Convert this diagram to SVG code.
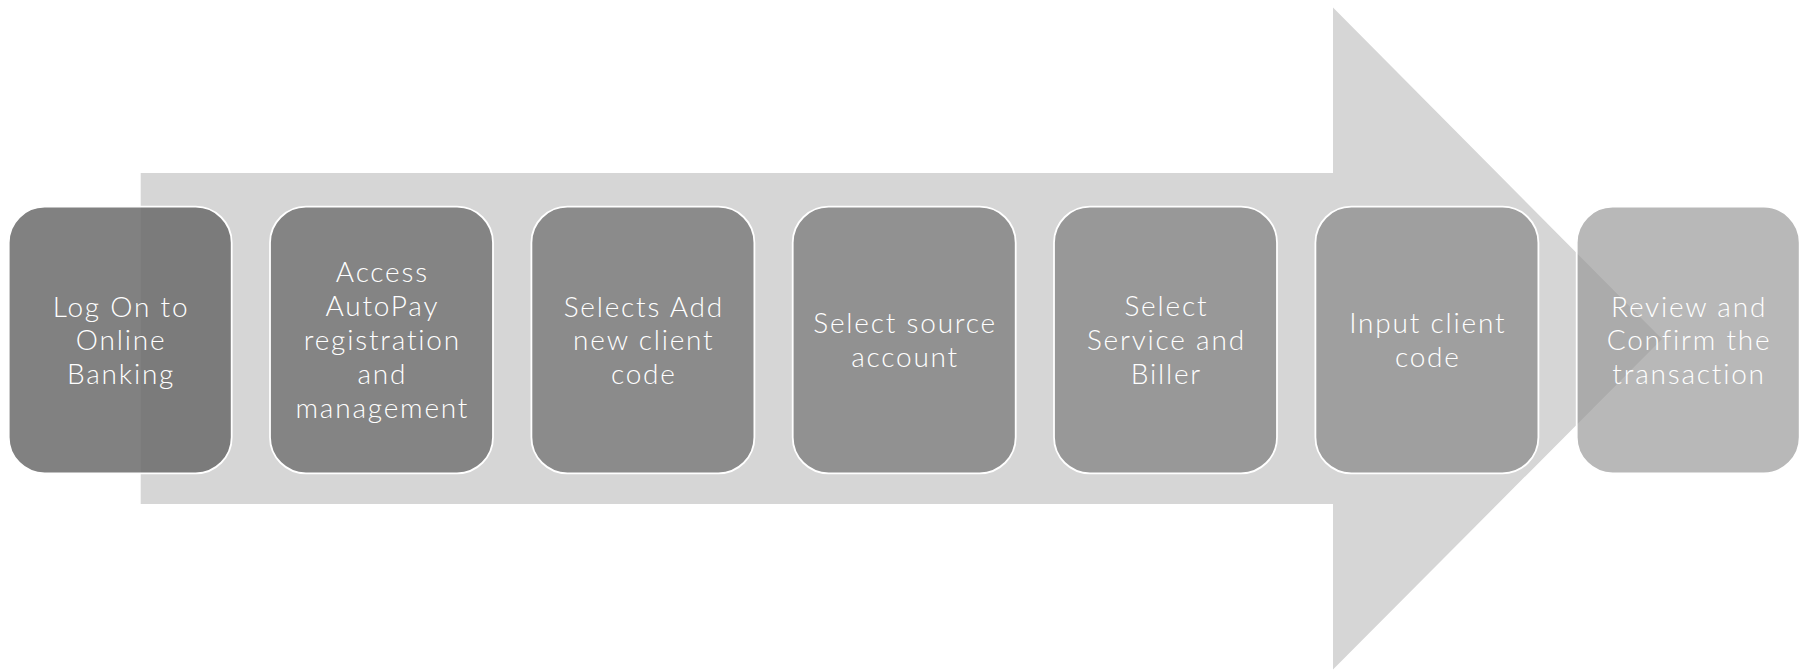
<svg xmlns="http://www.w3.org/2000/svg" width="1808" height="670" viewBox="0 0 1808 670">
<style>
.box{stroke:#ffffff;stroke-width:1.8}
.t{font-family:Lato,"Open Sans","Liberation Sans",sans-serif;font-weight:300;font-size:28px;letter-spacing:1.8px;fill:#ffffff;text-anchor:middle}
</style>
<rect width="1808" height="670" fill="#ffffff"/>
<g id="arrow">
<polygon points="140.7,173 1333,173 1333,7.5 1662,339 1333,669.5 1333,504 140.7,504" fill="#d6d6d6"/>
</g>
<g id="node1">
<rect class="box" x="8.7" y="206.7" width="223" height="266.6" rx="36" fill="#6c6c6c" fill-opacity="0.86"/>
<text class="t"><tspan x="121.1" y="316.5">Log On to</tspan><tspan x="121.1" y="350">Online</tspan><tspan x="121.1" y="383.5">Banking</tspan></text>
</g>
<g id="node2">
<rect class="box" x="270" y="206.7" width="223" height="266.6" rx="36" fill="#848484"/>
<text class="t"><tspan x="382.4" y="282">Access</tspan><tspan x="382.4" y="316">AutoPay</tspan><tspan x="382.4" y="350">registration</tspan><tspan x="382.4" y="384">and</tspan><tspan x="382.4" y="418">management</tspan></text>
</g>
<g id="node3">
<rect class="box" x="531.4" y="206.7" width="223" height="266.6" rx="36" fill="#8b8b8b"/>
<text class="t"><tspan x="643.8" y="316.5">Selects Add</tspan><tspan x="643.8" y="350">new client</tspan><tspan x="643.8" y="383.5">code</tspan></text>
</g>
<g id="node4">
<rect class="box" x="792.7" y="206.7" width="223" height="266.6" rx="36" fill="#919191"/>
<text class="t"><tspan x="905.1" y="333.3">Select source</tspan><tspan x="905.1" y="366.8">account</tspan></text>
</g>
<g id="node5">
<rect class="box" x="1054" y="206.7" width="223" height="266.6" rx="36" fill="#989898"/>
<text class="t"><tspan x="1166.4" y="316">Select</tspan><tspan x="1166.4" y="350">Service and</tspan><tspan x="1166.4" y="384">Biller</tspan></text>
</g>
<g id="node6">
<rect class="box" x="1315.4" y="206.7" width="223" height="266.6" rx="36" fill="#9f9f9f"/>
<text class="t"><tspan x="1427.8" y="333.3">Input client</tspan><tspan x="1427.8" y="366.8">code</tspan></text>
</g>
<g id="node7">
<rect class="box" x="1576.7" y="206.7" width="223" height="266.6" rx="36" fill="#979797" fill-opacity="0.683"/>
<text class="t"><tspan x="1689.1" y="316.5">Review and</tspan><tspan x="1689.1" y="350">Confirm the</tspan><tspan x="1689.1" y="383.5">transaction</tspan></text>
</g>
<g id="connectors"></g>
</svg>
